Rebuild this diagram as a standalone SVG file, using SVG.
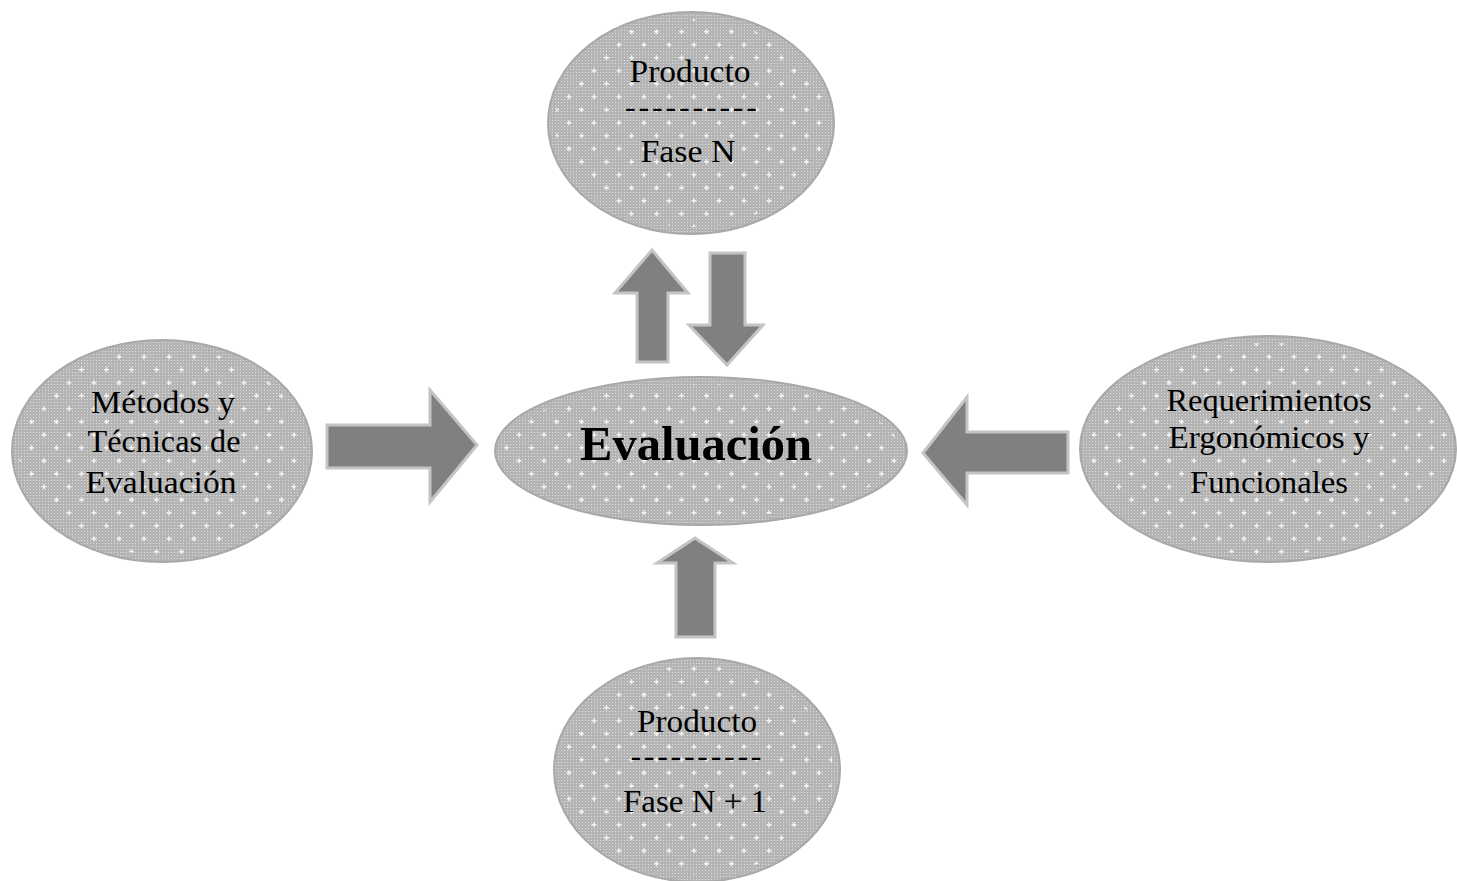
<svg xmlns="http://www.w3.org/2000/svg" width="1457" height="881" viewBox="0 0 1457 881">
<style>
.txt{font-family:"Liberation Serif","Times New Roman",serif;font-size:32px;fill:#000;text-anchor:middle}
.big{font-family:"Liberation Serif","Times New Roman",serif;font-size:48px;font-weight:bold;fill:#000;text-anchor:middle}
.ell{stroke:#a8a8a8;stroke-width:2}
.spk{fill:url(#sparkle);stroke:none}
.arrow{fill:#808080;stroke:#c4c4c4;stroke-width:3;stroke-linejoin:miter}
</style>
<defs>
<pattern id="fine" width="3" height="3" patternUnits="userSpaceOnUse">
<rect width="3" height="3" fill="#b4b4b4"/>
<rect x="0" y="0" width="1" height="1" fill="#dedede"/>
</pattern>
<pattern id="sparkle" width="25" height="26" patternUnits="userSpaceOnUse">
<rect x="4" y="5" width="5" height="1.5" fill="#f2f2f2"/>
<rect x="5.75" y="3.25" width="1.5" height="5" fill="#f2f2f2"/>
<rect x="16.5" y="18" width="5" height="1.5" fill="#f2f2f2"/>
<rect x="18.25" y="16.25" width="1.5" height="5" fill="#f2f2f2"/>
</pattern>
</defs>
<rect width="1457" height="881" fill="#ffffff"/>

<g id="connectors">
<polygon class="arrow" points="652,250 688,293 668,293 668,362 637,362 637,293 615,293"/>
<polygon class="arrow" points="710,253 745,253 745,325 763,325 727,365 689,325 710,325"/>
<polygon class="arrow" points="695,538 733,563 715,563 715,637 676,637 676,563 657,563"/>
<polygon class="arrow" points="327,425 430,425 430,390 477,445 430,502 430,468 327,468"/>
<polygon class="arrow" points="1068,432 967,432 967,397 923,453 967,505 967,473 1068,473"/>
</g>

<g id="node-producto-n">
<ellipse class="ell" cx="691" cy="123" rx="143" ry="111" fill="url(#fine)"/>
<ellipse class="spk" cx="691" cy="123" rx="136" ry="104"/>
<text class="txt" x="690" y="82" textLength="121" lengthAdjust="spacingAndGlyphs">Producto</text>
<text class="txt" x="691" y="117" textLength="132" lengthAdjust="spacing">----------</text>
<text class="txt" x="688" y="162" textLength="95" lengthAdjust="spacingAndGlyphs">Fase N</text>
</g>

<g id="node-evaluacion">
<ellipse class="ell" cx="701" cy="451" rx="206" ry="74" fill="url(#fine)"/>
<ellipse class="spk" cx="701" cy="451" rx="199" ry="67"/>
<text class="big" x="696" y="460" textLength="232" lengthAdjust="spacingAndGlyphs">Evaluación</text>
</g>

<g id="node-metodos">
<ellipse class="ell" cx="162" cy="451" rx="150" ry="111" fill="url(#fine)"/>
<ellipse class="spk" cx="162" cy="451" rx="143" ry="104"/>
<text class="txt" x="163" y="413" textLength="144" lengthAdjust="spacingAndGlyphs">Métodos y</text>
<text class="txt" x="164" y="452" textLength="153" lengthAdjust="spacingAndGlyphs">Técnicas de</text>
<text class="txt" x="161" y="493" textLength="151" lengthAdjust="spacingAndGlyphs">Evaluación</text>
</g>

<g id="node-requerimientos">
<ellipse class="ell" cx="1268" cy="449" rx="188" ry="113" fill="url(#fine)"/>
<ellipse class="spk" cx="1268" cy="449" rx="181" ry="106"/>
<text class="txt" x="1269" y="411" textLength="205" lengthAdjust="spacingAndGlyphs">Requerimientos</text>
<text class="txt" x="1269" y="448" textLength="201" lengthAdjust="spacingAndGlyphs">Ergonómicos y</text>
<text class="txt" x="1269" y="493" textLength="158" lengthAdjust="spacingAndGlyphs">Funcionales</text>
</g>

<g id="node-producto-n1">
<ellipse class="ell" cx="697" cy="770" rx="143" ry="112" fill="url(#fine)"/>
<ellipse class="spk" cx="697" cy="770" rx="136" ry="105"/>
<text class="txt" x="697" y="732" textLength="120" lengthAdjust="spacingAndGlyphs">Producto</text>
<text class="txt" x="696" y="766" textLength="131" lengthAdjust="spacing">----------</text>
<text class="txt" x="695" y="812" textLength="144" lengthAdjust="spacingAndGlyphs">Fase N + 1</text>
</g>
</svg>
